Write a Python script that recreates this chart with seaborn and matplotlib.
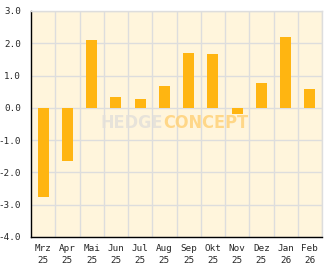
import matplotlib
matplotlib.use("Agg")
import matplotlib.pyplot as plt
import seaborn as sns
import pandas as pd
import numpy as np
from matplotlib.ticker import MultipleLocator, FixedLocator

months = ["Mrz", "Apr", "Mai", "Jun", "Jul", "Aug", "Sep", "Okt", "Nov", "Dez", "Jan", "Feb"]
years = ["25", "25", "25", "25", "25", "25", "25", "25", "25", "25", "26", "26"]
values = [-2.77, -1.66, 2.09, 0.33, 0.27, 0.67, 1.71, 1.67, -0.18, 0.76, 2.19, 0.58]
yticks = [3.0, 2.0, 1.0, 0.0, -1.0, -2.0, -3.0, -4.0]

labels = [f"{m}\n{y}" for m, y in zip(months, years)]
df = pd.DataFrame({"label": labels, "value": values})

sns.set_style("white")
plt.rcParams["font.family"] = ["DejaVu Sans Mono"]

fig = plt.figure(figsize=(3.32, 2.69), dpi=100)
ax = fig.add_axes([31/332, 1-237/269, (322-31)/332, (237-11)/269])
ax.set_facecolor("#FFF5DC")

sns.barplot(data=df, x="label", y="value", color="#FFB511", saturation=1,
            width=0.45, ax=ax, zorder=3, linewidth=0, edgecolor="none")

n = len(labels)
ax.set_xlim(-0.5, n - 0.5)
ax.set_ylim(-4, 3)
ax.set_xlabel("")
ax.set_ylabel("")

ax.set_yticks(yticks)
ax.set_yticklabels([f"{v:.1f}" for v in yticks], fontsize=6.7)
ax.yaxis.set_minor_locator(MultipleLocator(0.5))
ax.xaxis.set_minor_locator(FixedLocator(np.arange(0.5, n, 1.0)))
ax.set_xticks(range(n))
ax.set_xticklabels(labels, fontsize=6.7, linespacing=1.45)

ax.tick_params(axis="x", which="major", length=0, pad=5)
ax.tick_params(axis="x", which="minor", direction="in", length=5, width=1, color="black")
ax.tick_params(axis="y", which="major", direction="in", length=5, width=1, color="black", pad=7)
ax.tick_params(axis="y", which="minor", direction="in", length=3, width=1, color="black")

ax.grid(False)
ax.grid(True, axis="y", which="major", color="#DDDDDD", linewidth=1, zorder=0)
ax.grid(True, axis="x", which="minor", color="#DDDDDD", linewidth=1, zorder=0)
ax.set_axisbelow(True)

for s in ["top", "right"]:
    ax.spines[s].set_color("#DDDDDD")
    ax.spines[s].set_linewidth(1)
for s in ["left", "bottom"]:
    ax.spines[s].set_color("black")
    ax.spines[s].set_linewidth(1)

# watermark
ax.text(0.455, 0.504, "HEDGE", transform=ax.transAxes, ha="right", va="center",
        fontsize=13, fontweight="bold", fontstretch="condensed", color="#E3E0DA", alpha=0.85,
        family="DejaVu Sans", zorder=4)
ax.text(0.455, 0.504, "CONCEPT", transform=ax.transAxes, ha="left", va="center",
        fontsize=13, fontweight="bold", fontstretch="condensed", color="#FFD27A", alpha=0.85,
        family="DejaVu Sans", zorder=4)

fig.savefig("out.png", dpi=100, facecolor="white")
